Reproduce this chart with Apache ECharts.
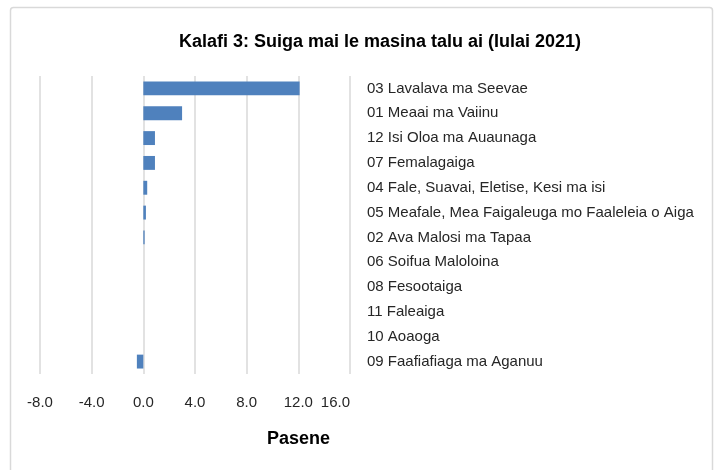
<!DOCTYPE html>
<html>
<head>
<meta charset="utf-8">
<script src="https://cdn.jsdelivr.net/npm/echarts@6/dist/echarts.min.js"></script>
<style>html,body{margin:0;padding:0;background:#fff;}#c{width:715px;height:470px;}</style>
</head>
<body>
<div id="c"></div>
<script>
const categories = [
  "03 Lavalava ma Seevae",
  "01 Meaai ma Vaiinu",
  "12 Isi Oloa ma Auaunaga",
  "07 Femalagaiga",
  "04 Fale, Suavai, Eletise, Kesi ma isi",
  "05 Meafale, Mea Faigaleuga mo Faaleleia o Aiga",
  "02 Ava Malosi ma Tapaa",
  "06 Soifua Maloloina",
  "08 Fesootaiga",
  "11 Faleaiga",
  "10 Aoaoga",
  "09 Faafiafiaga ma Aganuu"
];
const values = [12.1, 3.0, 0.9, 0.9, 0.3, 0.2, 0.1, 0, 0, 0, 0, -0.5];
const titleText = "Kalafi 3: Suiga mai le masina talu ai (Iulai 2021)";
const axisName = "Pasene";

const chart = echarts.init(document.getElementById('c'), null, {renderer: 'canvas'});
const font = "'Liberation Sans', Arial, sans-serif";
chart.setOption({
  animation: false,
  backgroundColor: '#fff',
  title: {
    text: titleText,
    left: 375, top: 28, textAlign: 'center',
    textStyle: {fontFamily: font, fontSize: 18, fontWeight: 'bold', color: '#000'}
  },
  grid: {left: 40, right: 365, top: 76, bottom: 96, containLabel: false},
  xAxis: {
    type: 'value', min: -8, max: 16, interval: 4,
    axisLine: {show: false}, axisTick: {show: false},
    splitLine: {show: true, lineStyle: {color: '#d9d9d9', width: 1.5}},
    axisLabel: {
      formatter: v => v.toFixed(1), margin: 21, alignMaxLabel: 'right',
      fontFamily: font, fontSize: 15, color: '#262626'
    }
  },
  yAxis: {
    type: 'category', data: categories, inverse: true, position: 'right',
    axisLine: {show: false}, axisTick: {show: false}, splitLine: {show: false},
    axisLabel: {align: 'left', margin: 17, fontFamily: font, fontSize: 15, color: '#262626'}
  },
  series: [{
    type: 'bar', data: values, barWidth: '56%',
    itemStyle: {color: '#4f81bd'}
  }],
  graphic: [
    {type: 'rect', shape: {x: 10.5, y: 7.5, width: 702, height: 480, r: 3},
     style: {fill: 'none', stroke: '#d9d9d9', lineWidth: 1.5}, z: 100},
    {type: 'text', left: 267, top: 430,
     style: {text: axisName, font: "bold 18px 'Liberation Sans', Arial, sans-serif", fill: '#000'}}
  ]
});
</script>
</body>
</html>
